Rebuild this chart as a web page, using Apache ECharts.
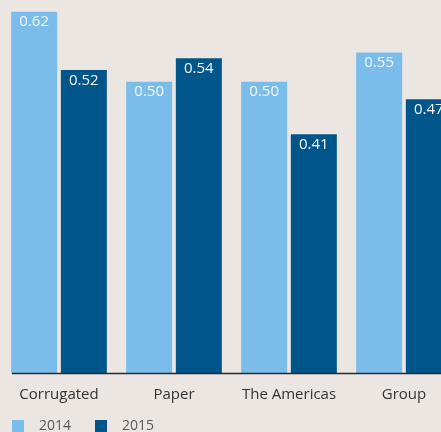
<!DOCTYPE html>
<html><head><meta charset="utf-8">
<script src="https://cdn.jsdelivr.net/npm/echarts@6/dist/echarts.min.js"></script>
<style>html,body{margin:0;padding:0;background:#ebe6e2;}#c{width:441px;height:432px;}</style>
</head><body><div id="c"></div>
<script>
const categories = ['Corrugated', 'Paper', 'The Americas', 'Group'];
const seriesNames = ['2014', '2015'];
const values2014 = [0.62, 0.50, 0.50, 0.55];
const values2015 = [0.52, 0.54, 0.41, 0.47];

const chart = echarts.init(document.getElementById('c'), null, {renderer: 'canvas'});
const font = '"Open Sans", Lato, sans-serif';
const labelCfg = {
  show: true, position: 'insideTop', distance: 3, color: '#f4f7fa',
  fontSize: 15, fontFamily: font, formatter: p => p.value.toFixed(2)
};
chart.setOption({
  backgroundColor: '#ebe6e2',
  animation: false,
  grid: {left: 1.5, width: 460, top: 0, height: 373.5, outerBoundsMode: 'none', containLabel: false},
  legend: {
    left: 12, top: 419, padding: 0, itemWidth: 12, itemHeight: 12, itemGap: 24, icon: 'rect',
    textStyle: {color: '#5a5a5a', fontSize: 14, fontFamily: font, padding: [0, 0, 0, 10]},
    data: seriesNames
  },
  xAxis: {
    type: 'category', data: categories,
    axisLine: {show: false}, axisTick: {show: false},
    axisLabel: {color: '#333', fontSize: 15, fontFamily: font, margin: 14, interval: 0, hideOverlap: false}
  },
  yAxis: {type: 'value', min: 0, max: 0.64, show: false, splitLine: {show: false}},
  graphic: [{
    type: 'line', shape: {x1: 12, y1: 373.5, x2: 441, y2: 373.5},
    style: {stroke: '#2a2a2a', lineWidth: 1.5}, z: 100
  }],
  series: [
    {name: seriesNames[0], type: 'bar', data: values2014, barWidth: 46, barGap: '8%',
     itemStyle: {color: '#7bbdea'}, label: labelCfg},
    {name: seriesNames[1], type: 'bar', data: values2015, barWidth: 46, barGap: '8%',
     itemStyle: {color: '#00558b'}, label: labelCfg}
  ]
});
</script></body></html>
